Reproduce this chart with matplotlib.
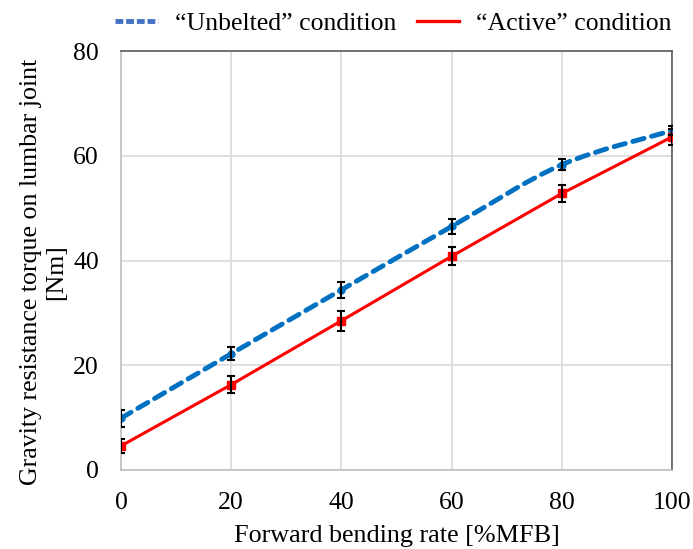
import numpy as np
import matplotlib
matplotlib.use("Agg")
from matplotlib import pyplot as plt
from matplotlib.path import Path
from matplotlib.patches import PathPatch
from matplotlib.lines import Line2D

plt.rcParams['font.family'] = ['Liberation Serif', 'DejaVu Serif']

# data
rate = [0, 20, 40, 60, 80, 100]
unbelted = [9.9, 22.2, 34.4, 46.5, 58.3, 64.8]
unbelted_err = [1.6, 1.2, 1.5, 1.4, 1.0, 0.8]
active = [4.6, 16.3, 28.5, 40.8, 52.8, 63.6]
active_err = [1.4, 1.6, 1.9, 1.7, 1.7, 1.5]

blue = '#0070C0'
red = '#FF0000'


def smooth_path(xs, ys):
    # Excel-like smoothed line: bezier segments through every point
    p = np.column_stack([xs, ys]).astype(float)
    pts = np.vstack([p[0], p, p[-1]])
    verts = [p[0]]
    codes = [Path.MOVETO]
    for i in range(1, len(pts) - 2):
        c1 = pts[i] + (pts[i + 1] - pts[i - 1]) / 6
        c2 = pts[i + 1] - (pts[i + 2] - pts[i]) / 6
        verts += [c1, c2, pts[i + 1]]
        codes += [Path.CURVE4] * 3
    return Path(verts, codes)


fig = plt.figure(figsize=(6.93, 5.49), dpi=100)
ax = fig.add_axes([0.1746, 0.1439, 0.7951, 0.7631])

ax.add_patch(PathPatch(smooth_path(rate, unbelted), fill=False, edgecolor=blue,
                       lw=3.5, linestyle=(0, (2.4, 1.6)), capstyle='round', zorder=3))
ax.plot(rate, unbelted, 'o', color=blue, ms=5, zorder=4)
ax.errorbar(rate, unbelted, yerr=unbelted_err, fmt='none', ecolor='black',
            elinewidth=1.5, capsize=3, capthick=1.5, zorder=5)

ax.plot(rate, active, '-', color=red, lw=2.2, zorder=3)
ax.plot(rate, active, 's', color=red, ms=5.5, zorder=4)
ax.errorbar(rate, active, yerr=active_err, fmt='none', ecolor='black',
            elinewidth=1.5, capsize=3, capthick=1.5, zorder=5)

ax.set_xlim(0, 100)
ax.set_ylim(0, 80)
ax.set_xticks([0, 20, 40, 60, 80, 100])
ax.set_yticks([0, 20, 40, 60, 80])
ax.grid(True, color='#d9d9d9', lw=1.2)
ax.set_axisbelow(True)
ax.tick_params(length=0, labelsize=18.5, pad=16)
for s in ['left', 'bottom']:
    ax.spines[s].set_color('#bfbfbf')
    ax.spines[s].set_linewidth(1.2)
for s in ['top', 'right']:
    ax.spines[s].set_color('#595959')
    ax.spines[s].set_linewidth(1.2)

ax.set_xlabel('Forward bending rate [%MFB]', fontsize=18.8, labelpad=8)
ax.set_ylabel('Gravity resistance torque on lumbar joint\n[Nm]', fontsize=18.6,
              linespacing=1.2)
ax.yaxis.set_label_coords(-0.097, 0.473)

handles = [Line2D([], [], color='#4472C4', lw=3.5, linestyle=(0, (1.6, 0.6)),
                  dash_capstyle='butt'),
           Line2D([], [], color=red, lw=2.4)]
fig.legend(handles, ['\u201cUnbelted\u201d condition', '\u201cActive\u201d condition'],
           loc='center', bbox_to_anchor=(0.568, 0.958), ncol=2, frameon=False,
           fontsize=18.5, handlelength=1.67, columnspacing=0.78, handletextpad=0.66,
           borderpad=0, borderaxespad=0)

fig.savefig('out.png', dpi=100)
